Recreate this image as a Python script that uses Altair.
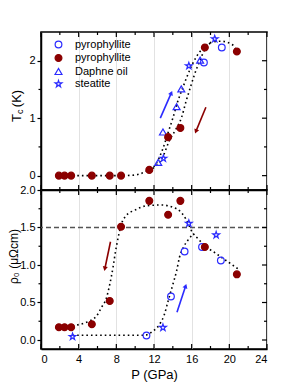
import altair as alt
import pandas as pd
import numpy as np

# ---------------- data ----------------
P_PYRO_FILLED = [1.9, 2.5, 3.2, 5.4, 7.3, 8.5, 11.5, 13.5, 14.8, 17.4, 20.8]
TC_PYRO_FILLED = [0, 0, 0, 0, 0, 0, 0.10, 0.67, 0.83, 2.23, 2.16]
RHO_PYRO_FILLED = [0.17, 0.17, 0.17, 0.21, 0.52, 1.51, 1.855, 1.67, 1.855, 1.24, 0.876]

P_PYRO_OPEN_TC = [17.3, 19.2]
TC_PYRO_OPEN = [1.97, 2.23]
P_PYRO_OPEN_RHO = [11.2, 13.8, 15.25, 17.1, 19.1]
RHO_PYRO_OPEN = [0.06, 0.58, 1.18, 1.24, 1.06]

P_DAPHNE = [12.45, 12.95, 14.4, 14.9, 16.9]
TC_DAPHNE = [0.23, 0.76, 1.2, 1.51, 2.01]

P_STEATITE_TC = [13.0, 15.7, 18.45]
TC_STEATITE = [0.30, 1.91, 2.38]
P_STEATITE_RHO = [3.35, 12.95, 15.7, 18.6]
RHO_STEATITE = [0.045, 0.166, 1.555, 1.40]

# dotted guide curves
TOP_UP_P = [1.9, 4, 6, 8, 9.5, 10.5, 11.4, 12.2, 12.9, 13.5, 14.0, 14.5, 15.1, 15.8, 16.5, 17.2, 18.1, 19.1, 20.4, 20.8]
TOP_UP_TC = [0, 0, 0, 0, 0.005, 0.03, 0.1, 0.2, 0.45, 0.75, 1.0, 1.28, 1.55, 1.84, 2.07, 2.22, 2.32, 2.34, 2.27, 2.16]
TOP_DOWN_P = [11.4, 12.3, 13.0, 13.6, 14.3, 14.9, 15.4, 15.95, 16.3, 16.85, 17.4, 18.1]
TOP_DOWN_TC = [0.1, 0.18, 0.35, 0.6, 0.8, 1.0, 1.29, 1.58, 1.76, 1.99, 2.2, 2.32]

BOT_DOWN_P = [1.9, 3.2, 4.7, 5.9, 6.4, 6.95, 7.3, 7.65, 7.9, 8.2, 8.55, 9.05, 9.95, 11.2, 12.8, 14.0, 14.9, 15.4,
              16.1, 16.6, 17.3, 17.9, 18.4, 19.3, 20.0, 20.9]
BOT_DOWN_RHO = [0.17, 0.19, 0.23, 0.32, 0.43, 0.56, 0.74, 0.97, 1.17, 1.37, 1.55, 1.66, 1.73, 1.79, 1.80, 1.77,
                1.70, 1.61, 1.43, 1.36, 1.27, 1.21, 1.17, 1.09, 1.03, 0.95]
BOT_UP_P = [3.35, 5, 7, 9, 11.0, 11.9, 12.6, 13.1, 13.5, 14.0, 14.4, 14.7, 15.1, 15.6, 16.2]
BOT_UP_RHO = [0.063, 0.063, 0.063, 0.063, 0.063, 0.12, 0.21, 0.34, 0.52, 0.74, 0.92, 1.1, 1.23, 1.33, 1.42]

# arrows: start P, start value, tip P, tip value
ARROW_TOP_UP = [12.67, 1.0, 13.84, 1.44]
ARROW_TOP_DOWN = [17.51, 1.19, 16.45, 0.77]
ARROW_BOT_DOWN = [7.38, 1.31, 6.78, 0.95]
ARROW_BOT_UP = [14.44, 0.37, 15.36, 0.72]

DASHED_RHO = [1.5]

X_MAJOR = [0, 4, 8, 12, 16, 20, 24]
X_MINOR = [2, 6, 10, 14, 18, 22]
Y1_MAJOR = [0, 1, 2]
Y1_MINOR = [0.5, 1.5]
Y2_MAJOR = [0, 0.5, 1.0, 1.5, 2.0]
Y2_MINOR = [0.25, 0.75, 1.25, 1.75]

SERIES = ["po", "pf", "da", "st"]

# ---------------- styles ----------------
FONT = "Liberation Sans"
BLUE = "#2b2bff"
RED = "#8b0000"
W, H1, H2 = 226, 158, 159
Y1_DOM = [-0.25, 2.5]
Y2_DOM = [-0.12, 2.0]
XS = alt.Scale(domain=[0, 24], nice=False, zero=False)
YS1 = alt.Scale(domain=Y1_DOM, nice=False, zero=False)
YS2 = alt.Scale(domain=Y2_DOM, nice=False, zero=False)

XAX_TOP = alt.Axis(values=X_MAJOR, labels=False, ticks=False, title=None, grid=True, domain=True)
YAX_TOP = alt.Axis(values=Y1_MAJOR, format="d", title=None, grid=False, tickSize=4, labelPadding=2)
XAX_BOT = alt.Axis(values=X_MAJOR, format="d", ticks=False, tickSize=0, labelPadding=4,
                   title="P (GPa)", titlePadding=4, grid=True)
YAX_BOT = alt.Axis(values=Y2_MAJOR, format=".1f", title="ρ₀ (μΩcm)", grid=False,
                   tickSize=4, labelPadding=2, titleX=-21, titleY=66, titleFontSize=12)

STAR = ("M0,-1L0.2245,-0.309L0.951,-0.309L0.363,0.118L0.588,0.809L0,0.382"
        "L-0.588,0.809L-0.363,0.118L-0.951,-0.309L-0.2245,-0.309Z")
shape_scale = alt.Scale(domain=SERIES, range=["circle", "circle", "triangle-up", STAR])
stroke_scale = alt.Scale(domain=SERIES, range=[BLUE, RED, BLUE, BLUE])
fill_scale = alt.Scale(domain=SERIES, range=["transparent", RED, "transparent", "transparent"])
size_scale = alt.Scale(domain=SERIES, range=[45, 50, 55, 85])

LABEL_EXPR = "datum.label == 'da' ? 'Daphne oil' : (datum.label == 'st' ? 'steatite' : 'pyrophyllite')"


def make_legend():
    return alt.Legend(title=None, orient="none", legendX=12, legendY=7, labelExpr=LABEL_EXPR,
                      labelFont=FONT, labelFontSize=11, labelColor="black", symbolStrokeWidth=1.2,
                      rowPadding=0.5, labelOffset=11, padding=0)


def points_df(groups):
    rows = []
    for s, ps, vs in groups:
        for p, v in zip(ps, vs):
            rows.append({"s": s, "P": p, "v": v})
    return pd.DataFrame(rows)


def curves_df(groups):
    rows = []
    for name, ps, vs in groups:
        for i, (p, v) in enumerate(zip(ps, vs)):
            rows.append({"c": name, "P": p, "v": v, "i": i})
    return pd.DataFrame(rows)


def markers(df, ys, xax, yax, with_legend):
    leg = make_legend() if with_legend else None
    return alt.Chart(df).mark_point(filled=False, strokeWidth=1.2, opacity=1).encode(
        x=alt.X("P:Q", scale=XS, axis=xax),
        y=alt.Y("v:Q", scale=ys, axis=yax),
        shape=alt.Shape("s:N", scale=shape_scale, legend=leg),
        stroke=alt.Stroke("s:N", scale=stroke_scale, legend=leg),
        fill=alt.Fill("s:N", scale=fill_scale, legend=leg),
        size=alt.Size("s:N", scale=size_scale, legend=leg),
    )


def arrow(a, color, ys, pxy, xax, yax):
    p0, v0, p1, v1 = a
    sx = W / 24.0
    ang = float(np.degrees(np.arctan2((p1 - p0) * sx, (v1 - v0) * pxy)) % 360)
    df = pd.DataFrame({"P": [p0], "v": [v0], "P1": [p1], "v1": [v1]})
    shaft = alt.Chart(df).mark_rule(color=color, strokeWidth=1.6).encode(
        x=alt.X("P:Q", scale=XS, axis=xax), y=alt.Y("v:Q", scale=ys, axis=yax),
        x2="P1:Q", y2="v1:Q")
    dfh = pd.DataFrame({"P": [p1], "v": [v1]})
    head = alt.Chart(dfh).mark_point(shape="triangle-up", filled=True, color=color, size=26,
                                     angle=ang, opacity=1).encode(
        x=alt.X("P:Q", scale=XS, axis=xax), y=alt.Y("v:Q", scale=ys, axis=yax))
    return [shaft, head]


def tick_layers(ys, h, y_major, y_minor, xax, yax):
    out = []
    dx_maj = pd.DataFrame({"P": X_MAJOR})
    dx_min = pd.DataFrame({"P": X_MINOR})
    dy_maj = pd.DataFrame({"v": y_major})
    dy_min = pd.DataFrame({"v": y_minor})
    for d, ln in ((dx_maj, 5), (dx_min, 3)):
        out.append(alt.Chart(d).mark_rule(color="black", strokeWidth=1.2).encode(
            x=alt.X("P:Q", scale=XS, axis=xax), y=alt.value(h), y2=alt.value(h - ln)))
        out.append(alt.Chart(d).mark_rule(color="black", strokeWidth=1.2).encode(
            x=alt.X("P:Q", scale=XS, axis=xax), y=alt.value(0), y2=alt.value(ln)))
    for d, ln in ((dy_maj, 5), (dy_min, 3)):
        out.append(alt.Chart(d).mark_rule(color="black", strokeWidth=1.2).encode(
            y=alt.Y("v:Q", scale=ys, axis=yax), x=alt.value(W), x2=alt.value(W - ln)))
    out.append(alt.Chart(dy_min).mark_rule(color="black", strokeWidth=1.2).encode(
        y=alt.Y("v:Q", scale=ys, axis=yax), x=alt.value(-2.5), x2=alt.value(0)))
    return out


# ---------------- top panel: Tc ----------------
top_pts = points_df([
    ("po", P_PYRO_OPEN_TC, TC_PYRO_OPEN),
    ("da", P_DAPHNE, TC_DAPHNE),
    ("st", P_STEATITE_TC, TC_STEATITE),
    ("pf", P_PYRO_FILLED, TC_PYRO_FILLED),
])
top_curves = alt.Chart(curves_df([("up", TOP_UP_P, TOP_UP_TC), ("down", TOP_DOWN_P, TOP_DOWN_TC)])).mark_line(
    color="black", strokeDash=[1.6, 3], strokeWidth=1.6, interpolate="monotone").encode(
    x=alt.X("P:Q", scale=XS, axis=XAX_TOP),
    y=alt.Y("v:Q", scale=YS1, axis=YAX_TOP),
    detail="c:N", order="i:Q")

title_parts = []
for txt, xo, yo, fs in (("T", -20.5, 90, 13), ("c", -17.8, 82.1, 9), ("(K)", -20.5, 75.2, 13)):
    title_parts.append(alt.Chart(pd.DataFrame({"t": [txt]})).mark_text(
        angle=270, align="left", baseline="alphabetic", font=FONT, fontSize=fs, color="black").encode(
        text="t:N", x=alt.value(xo), y=alt.value(yo)))

PXY1 = H1 / (Y1_DOM[1] - Y1_DOM[0])
top = alt.layer(
    top_curves,
    *arrow(ARROW_TOP_UP, BLUE, YS1, PXY1, XAX_TOP, YAX_TOP),
    *arrow(ARROW_TOP_DOWN, RED, YS1, PXY1, XAX_TOP, YAX_TOP),
    markers(top_pts, YS1, XAX_TOP, YAX_TOP, True),
    *tick_layers(YS1, H1, Y1_MAJOR, Y1_MINOR, XAX_TOP, YAX_TOP),
    *title_parts,
).properties(width=W, height=H1)

# ---------------- bottom panel: rho0 ----------------
bot_pts = points_df([
    ("po", P_PYRO_OPEN_RHO, RHO_PYRO_OPEN),
    ("st", P_STEATITE_RHO, RHO_STEATITE),
    ("pf", P_PYRO_FILLED, RHO_PYRO_FILLED),
])
bot_curves = alt.Chart(curves_df([("down", BOT_DOWN_P, BOT_DOWN_RHO), ("up", BOT_UP_P, BOT_UP_RHO)])).mark_line(
    color="black", strokeDash=[1.6, 3], strokeWidth=1.6, interpolate="monotone").encode(
    x=alt.X("P:Q", scale=XS, axis=XAX_BOT),
    y=alt.Y("v:Q", scale=YS2, axis=YAX_BOT),
    detail="c:N", order="i:Q")

dashed = alt.Chart(pd.DataFrame({"v": DASHED_RHO})).mark_rule(
    color="#555555", strokeDash=[5, 3], strokeWidth=1.5).encode(y=alt.Y("v:Q", scale=YS2, axis=YAX_BOT))

PXY2 = H2 / (Y2_DOM[1] - Y2_DOM[0])
bottom = alt.layer(
    bot_curves,
    dashed,
    *arrow(ARROW_BOT_DOWN, RED, YS2, PXY2, XAX_BOT, YAX_BOT),
    *arrow(ARROW_BOT_UP, BLUE, YS2, PXY2, XAX_BOT, YAX_BOT),
    markers(bot_pts, YS2, XAX_BOT, YAX_BOT, False),
    *tick_layers(YS2, H2, Y2_MAJOR, Y2_MINOR, XAX_BOT, YAX_BOT),
).properties(width=W, height=H2)

chart = alt.vconcat(top, bottom, spacing=0, bounds="flush").resolve_scale(
    y="independent", shape="independent", stroke="independent", fill="independent", size="independent"
).resolve_legend(
    shape="independent", stroke="independent", fill="independent", size="independent"
).properties(
    padding={"left": -2, "top": 22, "right": 5, "bottom": 0}
).configure_view(
    stroke="black", strokeWidth=1.5
).configure_axis(
    labelFont=FONT, titleFont=FONT, labelFontSize=11, titleFontSize=13, titleFontWeight="normal",
    labelColor="black", titleColor="black", domainColor="black", domainWidth=1.5,
    tickColor="black", tickWidth=1.2, gridColor="#e2e2e2", gridWidth=1
)

chart.save("out.html", embed_options={"renderer": "svg", "actions": False})
